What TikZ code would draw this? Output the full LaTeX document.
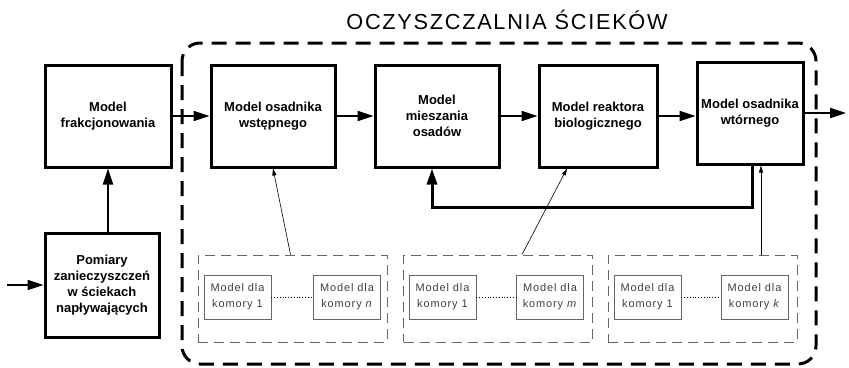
\documentclass[tikz,border=0pt]{standalone}
\usepackage{fontspec}
\setmainfont{Liberation Sans}
\newfontfamily\spacedfont[LetterSpace=8]{Liberation Sans}
\usetikzlibrary{arrows.meta}

\begin{document}
\begin{tikzpicture}[x=1pt, y=-1pt,
  block/.style={draw, line width=3pt, align=center, font=\fontsize{13}{16}\selectfont\bfseries, inner sep=1pt},
  group/.style={draw=black!60, line width=0.8pt, dash pattern=on 10pt off 6pt, minimum width=189pt, minimum height=87pt},
  cell/.style={draw=black!60, line width=0.8pt, align=center, text=black!75, font=\spacedfont\fontsize{11}{15.7}\selectfont, minimum width=67pt, minimum height=44pt, inner sep=1pt},
  arr/.style={line width=2pt, -{Triangle[length=16pt,width=10pt]}},
  thinarr/.style={line width=0.6pt, -{Triangle[length=7pt,width=4pt]}},
  outer/.style={line width=3pt, dash pattern=on 15pt off 9pt, rounded corners=18pt}]
  \useasboundingbox (0,0) rectangle (849,367);

  % Treatment plant frame and title
  \draw[outer] (182,43) rectangle (816,364);
  \node[font=\spacedfont\fontsize{21.7}{26}\selectfont] (title) at (507,20) {OCZYSZCZALNIA ŚCIEKÓW};

  % Main model blocks
  \node[block, minimum width=126pt, minimum height=102pt] (frak) at (108,116) {Model\\frakcjonowania};
  \node[block, minimum width=124pt, minimum height=102pt] (wst) at (273,116) {Model osadnika\\wstępnego};
  \node[block, minimum width=124pt, minimum height=102pt] (mies) at (437,116) {Model\\mieszania\\osadów};
  \node[block, minimum width=118pt, minimum height=102pt] (reak) at (598,116) {Model reaktora\\biologicznego};
  \node[block, minimum width=106pt, minimum height=102pt] (wtor) at (750,113) {Model osadnika\\wtórnego};
  \node[block, minimum width=114pt, minimum height=104pt] (pom) at (102,285) {Pomiary\\zanieczyszczeń\\w ściekach\\napływających};

  % Flow between blocks
  \coordinate (in) at (7,285);
  \coordinate (out) at (846,113);
  \coordinate (fb) at (752,207);
  \draw[arr] (in) -- (pom.west);
  \draw[arr] (pom.north -| frak) -- (frak.south);
  \draw[arr] (frak.east) -- (wst.west);
  \draw[arr] (wst.east) -- (mies.west);
  \draw[arr] (mies.east) -- (reak.west);
  \draw[arr] (reak.east) -- (reak.east -| wtor.west);
  \draw[arr] (wtor.east) -- (out);
  \draw[arr, line width=3pt] (wtor.south -| fb) -- (fb) -| ([xshift=-5pt]mies.south); % recirculation

  % Chamber groups
  \node[group] (g1) at (292.5,298.5) {};
  \node[group] (g2) at (498,298.5) {};
  \node[group] (g3) at (702.5,298.5) {};

  \node[cell] (c11) at (237.5,297) {Model dla\\komory 1};
  \node[cell] (c1n) at (347,297) {Model dla\\komory \textit{n}};
  \node[cell] (c21) at (442.5,297) {Model dla\\komory 1};
  \node[cell] (c2m) at (550,297) {Model dla\\komory \textit{m}};
  \node[cell] (c31) at (647.5,297) {Model dla\\komory 1};
  \node[cell] (c3k) at (754.5,297) {Model dla\\komory \textit{k}};

  \foreach \a/\b in {c11/c1n, c21/c2m, c31/c3k}
    \draw[dotted, line width=0.8pt] (\a) -- (\b);

  % Links from groups to blocks
  \draw[thinarr] ([xshift=-2pt]g1.north) -- (wst.south);
  \draw[thinarr] ([xshift=24pt]g2.north) -- ([xshift=-31pt]reak.south);
  \draw[thinarr] ([xshift=11pt]wtor.south |- g3.north) -- ([xshift=11pt]wtor.south);
\end{tikzpicture}
\end{document}
